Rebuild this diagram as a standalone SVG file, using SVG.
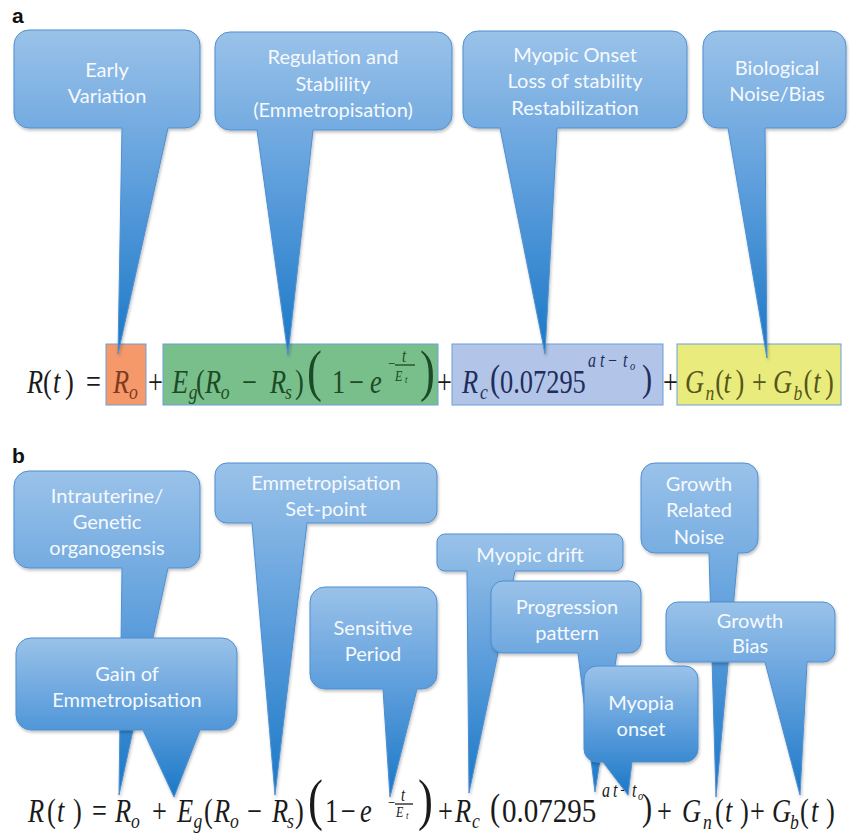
<svg xmlns="http://www.w3.org/2000/svg" width="850" height="839" viewBox="0 0 850 839">
<defs>
<linearGradient id="cg" x1="0" y1="0" x2="0" y2="1">
<stop offset="0" stop-color="#9ac2e9"/>
<stop offset="0.5" stop-color="#5a9cdb"/>
<stop offset="1" stop-color="#1a78c6"/>
</linearGradient>
<filter id="sh" x="-10%" y="-10%" width="125%" height="125%">
<feDropShadow dx="1" dy="2" stdDeviation="1.5" flood-color="#000" flood-opacity="0.25"/>
</filter>
<style>
.co{fill:url(#cg);stroke:#4f8fd2;stroke-width:1;filter:url(#sh)}
.ct{font-family:Lato,"Open Sans",sans-serif;font-size:20px;fill:#f6f9fd;text-anchor:middle}
.lbl{font-family:"Liberation Sans",Arial,sans-serif;font-weight:bold;font-size:21px;fill:#111}
.m{font-family:"Liberation Serif","Times New Roman",serif;font-size:33px}
.i{font-style:italic}
.sb{font-size:22px}
.eb{stroke:#6a9fd8;stroke-width:1}
</style>
</defs>
<rect width="850" height="839" fill="#ffffff"/>

<text class="lbl" x="12" y="23">a</text>
<text class="lbl" x="12" y="463">b</text>

<!-- Equation a -->
<g id="eq-a">
<rect class="eb" x="106" y="344" width="40" height="61" fill="#f5996a"/>
<rect class="eb" x="163" y="344" width="275" height="61" fill="#79bf8b"/>
<rect class="eb" x="452" y="344" width="211" height="61" fill="#b2c5e8"/>
<rect class="eb" x="677" y="344" width="164" height="61" fill="#e9ec7c"/>
<line x1="395" y1="365" x2="415" y2="365" stroke="#1d4a26" stroke-width="1.3"/>
<g transform="scale(0.8,1)" class="m">
<g fill="#1a1a1a">
<text class="i" x="33.75" y="393">R</text>
<text x="53.75" y="393">(</text>
<text class="i" x="66.25" y="393">t</text>
<text x="81.25" y="393">)</text>
<text x="107.5" y="393">=</text>
<text x="185" y="393">+</text>
<text x="546.25" y="393">+</text>
<text x="828.75" y="393">+</text>
</g>
<g fill="#7d3b22">
<text class="i" x="141.25" y="393">R</text>
<text class="i sb" x="161.25" y="399">o</text>
</g>
<g fill="#1d4a26">
<text class="i" x="215" y="393">E</text>
<text class="i sb" x="236" y="399">g</text>
<text x="245" y="393">(</text>
<text class="i" x="256.25" y="393">R</text>
<text class="i sb" x="276" y="399">o</text>
<text x="302.5" y="393">−</text>
<text class="i" x="337.5" y="393">R</text>
<text class="i sb" x="356.25" y="399">s</text>
<text x="368.75" y="393">)</text>
<text x="383.75" y="390" font-size="56">(</text>
<text x="415" y="393">1</text>
<text x="436.25" y="393">−</text>
<text class="i" x="462.5" y="393">e</text>
<text x="485" y="369" font-size="16">−</text>
<text class="i" x="502.5" y="362" font-size="18">t</text>
<text class="i" x="493.75" y="381" font-size="15">E</text>
<text class="i" x="506.25" y="383" font-size="11">t</text>
<text x="525" y="390" font-size="56">)</text>
</g>
<g fill="#1f2d5c">
<text class="i" x="577.5" y="393">R</text>
<text class="i sb" x="600" y="399">c</text>
<text x="612.5" y="391" font-size="38">(</text>
<text x="625" y="393">0.07295</text>
<text class="i" x="735" y="367" font-size="20">a</text>
<text class="i" x="750" y="367" font-size="20">t</text>
<text x="760" y="367" font-size="20">−</text>
<text class="i" x="778.75" y="367" font-size="20">t</text>
<text class="i" x="787.5" y="370" font-size="13">o</text>
<text x="802.5" y="391" font-size="38">)</text>
</g>
<g fill="#55561a">
<text class="i" x="856.25" y="393">G</text>
<text class="i sb" x="882" y="400">n</text>
<text x="894" y="393">(</text>
<text class="i" x="904.5" y="393">t</text>
<text x="919.5" y="393">)</text>
<text x="940" y="393">+</text>
<text class="i" x="966.25" y="393">G</text>
<text class="i sb" x="992" y="400">b</text>
<text x="1004.5" y="393">(</text>
<text class="i" x="1016.5" y="393">t</text>
<text x="1031.25" y="393">)</text>
</g>
</g>
</g>

<!-- Callouts a -->
<g id="early-variation">
<path class="co" d="M29,30 H185 A15,15 0 0 1 200,45 V113 A15,15 0 0 1 185,128 H168 L118,354 L122,128 H29 A15,15 0 0 1 14,113 V45 A15,15 0 0 1 29,30 Z"/>
<text class="ct" x="107" y="77">Early</text>
<text class="ct" x="107" y="103">Variation</text>
</g>
<g id="regulation">
<path class="co" d="M230,32 H437 A15,15 0 0 1 452,47 V115 A15,15 0 0 1 437,130 H313 L288,355 L257,130 H230 A15,15 0 0 1 215,115 V47 A15,15 0 0 1 230,32 Z"/>
<text class="ct" x="333" y="64">Regulation and</text>
<text class="ct" x="333" y="91">Stablility</text>
<text class="ct" x="333" y="117">(Emmetropisation)</text>
</g>
<g id="myopic-onset">
<path class="co" d="M478,31 H672 A15,15 0 0 1 687,46 V113 A15,15 0 0 1 672,128 H557 L545,354 L500,128 H478 A15,15 0 0 1 463,113 V46 A15,15 0 0 1 478,31 Z"/>
<text class="ct" x="575" y="62">Myopic Onset</text>
<text class="ct" x="575" y="88">Loss of stability</text>
<text class="ct" x="575" y="115">Restabilization</text>
</g>
<g id="biological-noise">
<path class="co" d="M718,31 H831 A15,15 0 0 1 846,46 V113 A15,15 0 0 1 831,128 H765 L767,358 L728,128 H718 A15,15 0 0 1 703,113 V46 A15,15 0 0 1 718,31 Z"/>
<text class="ct" x="777" y="75">Biological</text>
<text class="ct" x="777" y="101">Noise/Bias</text>
</g>

<!-- Equation b -->
<g id="eq-b">
<line x1="395" y1="804" x2="413" y2="804" stroke="#1a1a1a" stroke-width="1.3"/>
<g transform="scale(0.8,1)" class="m" fill="#1a1a1a">
<text class="i" x="35" y="822">R</text>
<text x="58.75" y="822">(</text>
<text class="i" x="71.25" y="822">t</text>
<text x="91.25" y="822">)</text>
<text x="115" y="822">=</text>
<text class="i" x="143.75" y="822">R</text>
<text class="i sb" x="163.75" y="828">o</text>
<text x="190" y="822">+</text>
<text class="i" x="221.25" y="822">E</text>
<text class="i sb" x="242" y="828">g</text>
<text x="255" y="822">(</text>
<text class="i" x="267.5" y="822">R</text>
<text class="i sb" x="287.5" y="828">o</text>
<text x="308.75" y="822">−</text>
<text class="i" x="340" y="822">R</text>
<text class="i sb" x="358.75" y="828">s</text>
<text x="368.75" y="822">)</text>
<text x="385" y="819" font-size="56">(</text>
<text x="406.25" y="822">1</text>
<text x="426" y="822">−</text>
<text class="i" x="450" y="822">e</text>
<text x="485" y="808" font-size="16">−</text>
<text class="i" x="501.25" y="801" font-size="18">t</text>
<text class="i" x="495" y="817" font-size="15">E</text>
<text class="i" x="507.5" y="819" font-size="11">t</text>
<text x="522.5" y="819" font-size="56">)</text>
<text x="547.5" y="822">+</text>
<text class="i" x="568.75" y="822">R</text>
<text class="i sb" x="590" y="828">c</text>
<text x="612.5" y="820" font-size="38">(</text>
<text x="627.5" y="822" textLength="118" lengthAdjust="spacingAndGlyphs">0.07295</text>
<text class="i" x="752.5" y="797" font-size="20">a</text>
<text class="i" x="766.25" y="797" font-size="20">t</text>
<text x="775" y="797" font-size="20">−</text>
<text class="i" x="790" y="797" font-size="20">t</text>
<text class="i" x="797.5" y="800" font-size="13">o</text>
<text x="802.5" y="820" font-size="38">)</text>
<text x="821.25" y="822">+</text>
<text class="i" x="852.5" y="822">G</text>
<text class="i sb" x="878.75" y="829">n</text>
<text x="893.75" y="822">(</text>
<text class="i" x="906.25" y="822">t</text>
<text x="925" y="822">)</text>
<text x="937.5" y="822">+</text>
<text class="i" x="965" y="822">G</text>
<text class="i sb" x="987.5" y="829">b</text>
<text x="1000" y="822">(</text>
<text class="i" x="1013.75" y="822">t</text>
<text x="1032.5" y="822">)</text>
</g>
</g>

<!-- Callouts b -->
<g id="intrauterine">
<path class="co" d="M29,471 H185 A15,15 0 0 1 200,486 V553 A15,15 0 0 1 185,568 H168 L119,795 L122,568 H29 A15,15 0 0 1 14,553 V486 A15,15 0 0 1 29,471 Z"/>
<text class="ct" x="107" y="503">Intrauterine/</text>
<text class="ct" x="107" y="529">Genetic</text>
<text class="ct" x="107" y="555">organogensis</text>
</g>
<g id="gain">
<path class="co" d="M31,638 H222 A15,15 0 0 1 237,653 V715 A15,15 0 0 1 222,730 H200 L174,797 L143,730 H31 A15,15 0 0 1 16,715 V653 A15,15 0 0 1 31,638 Z"/>
<text class="ct" x="127" y="681">Gain of</text>
<text class="ct" x="127" y="707">Emmetropisation</text>
</g>
<g id="set-point">
<path class="co" d="M227,463 H425 A12,12 0 0 1 437,475 V511 A12,12 0 0 1 425,523 H307 L275,795 L252,523 H227 A12,12 0 0 1 215,511 V475 A12,12 0 0 1 227,463 Z"/>
<text class="ct" x="326" y="490">Emmetropisation</text>
<text class="ct" x="326" y="516">Set-point</text>
</g>
<g id="sensitive-period">
<path class="co" d="M325,587 H422 A15,15 0 0 1 437,602 V674 A15,15 0 0 1 422,689 H417 L390,797 L383,689 H325 A15,15 0 0 1 310,674 V602 A15,15 0 0 1 325,587 Z"/>
<text class="ct" x="373" y="635">Sensitive</text>
<text class="ct" x="373" y="661">Period</text>
</g>
<g id="myopic-drift">
<path class="co" d="M445,534 H615 A8,8 0 0 1 623,542 V563 A8,8 0 0 1 615,571 H515 L469,793 L467,571 H445 A8,8 0 0 1 437,563 V542 A8,8 0 0 1 445,534 Z"/>
<text class="ct" x="530" y="562">Myopic drift</text>
</g>
<g id="progression-pattern">
<path class="co" d="M503,581 H629 A12,12 0 0 1 641,593 V641 A12,12 0 0 1 629,653 H617 L595,792 L578,653 H503 A12,12 0 0 1 491,641 V593 A12,12 0 0 1 503,581 Z"/>
<text class="ct" x="567" y="614">Progression</text>
<text class="ct" x="567" y="640">pattern</text>
</g>
<g id="myopia-onset">
<path class="co" d="M597,666 H685 A13,13 0 0 1 698,679 V749 A13,13 0 0 1 685,762 H632 L628,795 L603,762 H597 A13,13 0 0 1 584,749 V679 A13,13 0 0 1 597,666 Z"/>
<text class="ct" x="641" y="710">Myopia</text>
<text class="ct" x="641" y="736">onset</text>
</g>
<g id="growth-noise">
<path class="co" d="M655,463 H744 A14,14 0 0 1 758,477 V539 A14,14 0 0 1 744,553 H738 L716,797 L709,553 H655 A14,14 0 0 1 641,539 V477 A14,14 0 0 1 655,463 Z"/>
<text class="ct" x="699" y="491">Growth</text>
<text class="ct" x="699" y="517">Related</text>
<text class="ct" x="699" y="544">Noise</text>
</g>
<g id="growth-bias">
<path class="co" d="M678,602 H823 A12,12 0 0 1 835,614 V650 A12,12 0 0 1 823,662 H807 L800,795 L765,662 H678 A12,12 0 0 1 666,650 V614 A12,12 0 0 1 678,602 Z"/>
<text class="ct" x="750" y="628">Growth</text>
<text class="ct" x="750" y="653">Bias</text>
</g>
</svg>
